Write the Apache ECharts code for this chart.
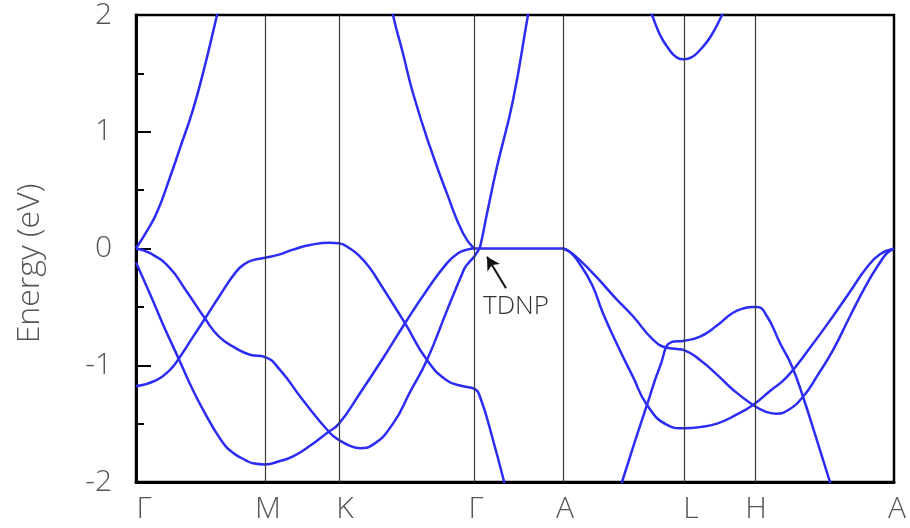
<!DOCTYPE html>
<html>
<head>
<meta charset="utf-8">
<script src="https://cdn.jsdelivr.net/npm/echarts@6/dist/echarts.min.js"></script>
<style>
html,body{margin:0;padding:0;background:#fff;}
#chart{width:910px;height:528px;}
</style>
</head>
<body>
<div id="chart"></div>
<script>
// High-symmetry points along the k-path
const kLabels = ['Γ', 'M', 'K', 'Γ', 'A', 'L', 'H', 'A'];
const kPts = [0, 1.29, 2.03, 3.38, 4.27, 5.48, 6.19, 7.58];
const yTicks = [-2, -1, 0, 1, 2];

// Bands: [k, Energy (eV)]
const bandA = [[0,0],[0.11,0.15],[0.21,0.31],[0.34,0.61],[0.44,0.86],[0.57,1.19],[0.69,1.57],[0.81,2.0],[0.89,2.3]];
const bandB = [[0,0],[0.14,-0.04],[0.33,-0.16],[0.50,-0.36],[0.69,-0.60],[0.83,-0.755],[1.00,-0.855],[1.14,-0.91],[1.29,-0.93],
  [1.44,-1.04],[1.67,-1.30],[1.94,-1.58],[2.03,-1.64],[2.14,-1.69],[2.24,-1.71],[2.37,-1.68],[2.57,-1.50],[2.74,-1.23],
  [2.91,-0.955],[3.11,-0.53],[3.27,-0.20],[3.30,-0.15],[3.35,-0.10],[3.39,-0.06],[3.42,-0.02],[3.44,0.01],[3.51,0.30],
  [3.61,0.70],[3.77,1.27],[3.92,2.0],[3.96,2.18]];
const bandC = [[0,-1.18],[0.20,-1.13],[0.34,-1.04],[0.43,-0.94],[0.56,-0.77],[0.69,-0.60],[0.84,-0.40],[1.00,-0.20],[1.09,-0.13],
  [1.17,-0.10],[1.29,-0.08],[1.44,-0.05],[1.57,-0.01],[1.74,0.03],[1.94,0.05],[2.03,0.045],[2.14,0.0],[2.24,-0.07],[2.34,-0.17],
  [2.44,-0.30],[2.69,-0.64],[2.91,-0.955],[3.11,-1.13],[3.27,-1.18],[3.38,-1.20],[3.44,-1.27],[3.57,-1.64],[3.69,-2.03],[3.72,-2.15]];
const bandD = [[0,-0.12],[0.14,-0.39],[0.27,-0.65],[0.43,-0.95],[0.54,-1.16],[0.67,-1.38],[0.85,-1.64],[0.97,-1.75],[1.09,-1.81],
  [1.17,-1.84],[1.29,-1.85],[1.44,-1.82],[1.57,-1.78],[1.74,-1.69],[1.91,-1.58],[2.03,-1.50],[2.24,-1.24],[2.47,-0.94],[2.69,-0.64],
  [2.91,-0.355],[3.11,-0.125],[3.22,-0.04],[3.31,-0.01],[3.38,0],[3.6,0],[3.9,0],[4.27,0]];
const bandE = [[2.54,2.17],[2.57,2.0],[2.67,1.67],[2.77,1.33],[2.94,0.87],[3.11,0.47],[3.27,0.13],[3.38,0]];
const bandF = [[4.27,0],[4.34,-0.03],[4.42,-0.085],[4.59,-0.23],[4.79,-0.42],[4.97,-0.58],[5.17,-0.78],[5.31,-0.85],[5.41,-0.86],
  [5.48,-0.87],[5.64,-0.955],[5.81,-1.08],[5.97,-1.21],[6.17,-1.34],[6.30,-1.40],[6.40,-1.415],[6.51,-1.39],[6.67,-1.27],[6.82,-1.08],
  [6.97,-0.87],[7.14,-0.58],[7.31,-0.30],[7.44,-0.12],[7.51,-0.04],[7.58,0]];
const bandG = [[4.27,0],[4.34,-0.03],[4.42,-0.11],[4.56,-0.31],[4.67,-0.555],[4.81,-0.82],[4.97,-1.10],[5.11,-1.34],[5.31,-1.51],
  [5.47,-1.54],[5.64,-1.53],[5.81,-1.50],[5.99,-1.43],[6.17,-1.34],[6.34,-1.22],[6.51,-1.10],[6.74,-0.85],[6.97,-0.58],
  [7.14,-0.37],[7.31,-0.16],[7.44,-0.05],[7.58,0]];
const bandH = [[4.84,-2.05],[4.86,-2.0],[4.99,-1.65],[5.11,-1.34],[5.24,-1.01],[5.36,-0.80],[5.48,-0.79],[5.64,-0.755],[5.81,-0.66],
  [5.97,-0.55],[6.09,-0.51],[6.16,-0.50],[6.21,-0.50],[6.31,-0.58],[6.44,-0.81],[6.56,-1.01],[6.67,-1.27],[6.79,-1.59],
  [6.94,-2.0],[6.96,-2.05]];
const bandI = [[5.09,2.15],[5.16,2.0],[5.24,1.83],[5.31,1.73],[5.41,1.635],[5.48,1.62],[5.56,1.64],[5.64,1.70],[5.75,1.82],[5.86,2.0],[5.92,2.12]];

// Annotation
const tdnpTip = [3.51, -0.07];
const tdnpTail = [3.70, -0.34];
const tdnpText = [3.80, -0.50];

const bands = [bandA, bandB, bandC, bandD, bandE, bandF, bandG, bandH, bandI];

const FONT = "'Open Sans', Lato, 'DejaVu Sans', sans-serif";
const labelShift = {0: 16, 1: 6, 2: 12, 3: 4, 4: 4, 5: 14, 6: 2, 7: 6};

const chart = echarts.init(document.getElementById('chart'), null, {renderer: 'canvas'});

const series = bands.map((b, i) => ({
  type: 'line',
  data: b,
  showSymbol: false,
  smooth: 0.5,
  clip: true,
  z: 3,
  lineStyle: {color: '#2c2cf5', width: 2.5},
  silent: true
}));

series.push({
  type: 'line',
  data: [],
  z: 1,
  silent: true,
  markLine: {
    silent: true,
    symbol: 'none',
    label: {show: false},
    lineStyle: {color: '#3a3a3a', width: 1.2, type: 'solid'},
    data: kPts.slice(1, -1).map(k => ({xAxis: k}))
  }
});

series.push({
  type: 'line',
  data: [],
  z: 5,
  silent: true,
  markLine: {
    silent: true,
    symbol: ['none', 'arrow'],
    symbolSize: [11, 13],
    label: {show: false},
    lineStyle: {color: '#111', width: 2, type: 'solid'},
    data: [[{coord: tdnpTail}, {coord: tdnpTip}]]
  },
  markPoint: {
    silent: true,
    symbol: 'circle',
    symbolSize: 0,
    data: [{coord: tdnpText}],
    label: {show: true, position: 'inside', formatter: 'TDNP', color: '#333',
      fontSize: 26, fontFamily: FONT, fontWeight: 300}
  }
});

const rich = {};
Object.keys(labelShift).forEach(i => {
  rich['s' + i] = {padding: [0, 0, 0, labelShift[i]], fontSize: 30, fontFamily: FONT, fontWeight: 300, color: '#555'};
});

chart.setOption({
  animation: false,
  backgroundColor: '#fff',
  grid: {left: 136, right: 16, top: 15, bottom: 46, show: true, borderColor: '#000', borderWidth: 2.5, backgroundColor: 'transparent'},
  xAxis: {
    type: 'value', min: 0, max: kPts[kPts.length - 1],
    axisLine: {show: true, onZero: false, lineStyle: {color: '#000', width: 3}},
    axisTick: {show: false},
    splitLine: {show: false},
    axisLabel: {
      customValues: kPts,
      margin: 12,
      fontSize: 30, fontFamily: FONT, fontWeight: 300, color: '#555',
      formatter: function (v) {
        let idx = 0;
        for (let i = 0; i < kPts.length; i++) if (Math.abs(kPts[i] - v) < 1e-6) idx = i;
        return '{s' + idx + '|' + kLabels[idx] + '}';
      },
      rich: rich
    }
  },
  yAxis: {
    type: 'value', min: yTicks[0], max: yTicks[yTicks.length - 1], interval: 1,
    name: 'Energy (eV)', nameLocation: 'middle', nameGap: 90,
    nameTextStyle: {fontSize: 32, fontFamily: FONT, fontWeight: 300, color: '#555', padding: [0, 30, 0, 0]},
    axisLine: {show: true, onZero: false, lineStyle: {color: '#000', width: 3}},
    axisTick: {show: true, inside: true, length: 15, lineStyle: {color: '#000', width: 2}},
    minorTick: {show: true, splitNumber: 2, length: 8, lineStyle: {color: '#000', width: 2}},
    splitLine: {show: false},
    minorSplitLine: {show: false},
    axisLabel: {margin: 24, fontSize: 30, fontFamily: FONT, fontWeight: 300, color: '#555',
      formatter: v => String(v)}
  },
  series: series
});
</script>
</body>
</html>
